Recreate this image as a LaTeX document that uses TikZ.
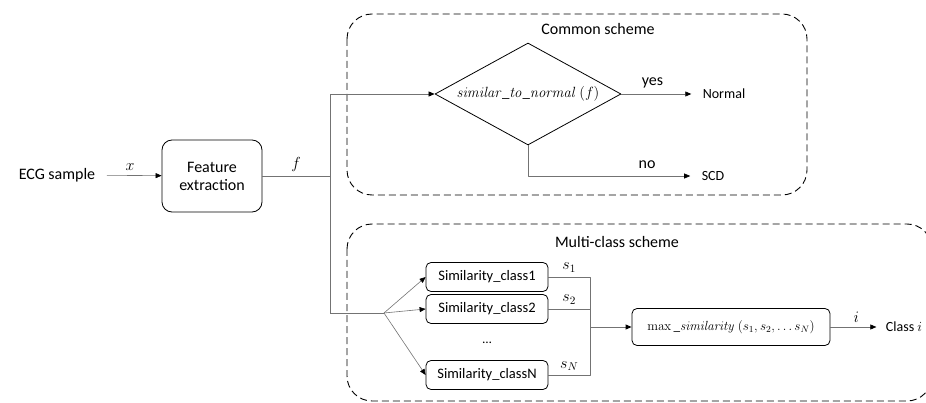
\documentclass[tikz,border=0pt]{standalone}
\usepackage{fix-cm}
\usepackage[no-math]{fontspec}
\setmainfont{Carlito}
\usetikzlibrary{shapes.geometric,arrows.meta,positioning}

\begin{document}
\begin{tikzpicture}[x=1pt,y=-1pt,line join=round,
		font=\fontsize{16}{18}\selectfont,
		conn/.style={draw=black!55,line width=0.6pt},
		arr/.style={conn,-{Triangle[length=6pt,width=5pt,black]}},
		blok/.style={draw,line width=0.8pt,rounded corners=5pt,inner sep=2pt},
		dec/.style={draw,line width=0.8pt,diamond,aspect=1.82,inner sep=0pt,
			minimum width=186,minimum height=102,font=\fontsize{14.8}{16}\selectfont},
		scheme/.style={draw,line width=0.9pt,dash pattern=on 7pt off 4pt,rounded corners=25pt},
		lbl/.style={font=\fontsize{14}{16}\selectfont},
		simbox/.style={blok,font=\fontsize{14.5}{16}\selectfont,minimum width=122,minimum height=29}]
	% --- Khung hình ---
	\useasboundingbox (0,0) rectangle (926,403);
	% --- Hai khung nét đứt ---
	\draw[scheme] (347,14) rectangle (807,195);
	\begin{scope}
		\clip (0,0) rectangle (926,403);
		\draw[scheme] (347,224) rectangle (932,401);
	\end{scope}
	\node (cmn) at (598,29) {Common scheme};
	\node (mlt) at (617,242) {Multi-class scheme};
	% --- Trích đặc trưng ---
	\node (ecg) at (57,175) {ECG sample};
	\node[blok,rounded corners=10pt,minimum width=100,minimum height=72,align=center] (fe) at (212,176) {Feature\\extraction};
	\coordinate (jf) at (330,176);
	\coordinate (jt) at (330,94);
	\coordinate (jb) at (330,313);
	\coordinate (fan) at (384,313);
	\draw[arr,shorten <=8pt] (ecg) -- node[above=1pt]{$x$} (fe);
	\draw[conn] (fe) -- node[above=1pt]{$f$} (jf);
	% --- Sơ đồ chung ---
	\node[dec] (sim) at (528,94) {$\mathit{similar\_to\_normal}\ (f)$};
	\node[lbl] (nrm) at (724,94) {Normal};
	\node[lbl] (scd) at (713,176) {SCD};
	\draw[arr] (jb) -- (jt) -- (sim);
	\draw[arr,shorten >=8pt] (sim) -- node[pos=0.4,above=2pt]{yes} (nrm);
	\draw[arr,shorten >=8pt] (sim.south) |- node[pos=0.85,above=4pt]{no} (scd);
	% --- Sơ đồ nhiều lớp ---
	\node[simbox] (c1) at (487,277) {Similarity\_class1};
	\node[simbox] (c2) at (487,309) {Similarity\_class2};
	\node (dots) at (487,343) {\fontsize{13}{15}\selectfont\ldots};
	\node[simbox] (cN) at (487,375) {Similarity\_classN};
	\draw[conn] (jb) -- (fan);
	\draw[arr] (fan) -- (c1.west);
	\draw[arr] (fan) -- (c2.west);
	\draw[arr] (fan) -- (cN.west);
	\coordinate (mrg) at (590,327);
	\node[blok,minimum width=198,minimum height=37,font=\fontsize{13.2}{15}\selectfont] (mx) at (731,327) {$\max\_\mathit{similarity}\ (s_1,s_2,\ldots s_N)$};
	\draw[conn] (c1) -- node[above=1pt]{$s_1$} (c1 -| mrg) -- (cN -| mrg) -- (cN);
	\path (cN) -- node[above=1pt]{$s_N$} (cN -| mrg);
	\draw[conn] (c2) -- node[above=1pt]{$s_2$} (c2 -| mrg);
	\draw[arr,line width=0.9pt] (mrg) -- (mx);
	\node[lbl] (cls) at (904,327) {Class $i$};
	\draw[arr,shorten >=6pt] (mx) -- node[above=1pt]{$i$} (cls);
\end{tikzpicture}
\end{document}
